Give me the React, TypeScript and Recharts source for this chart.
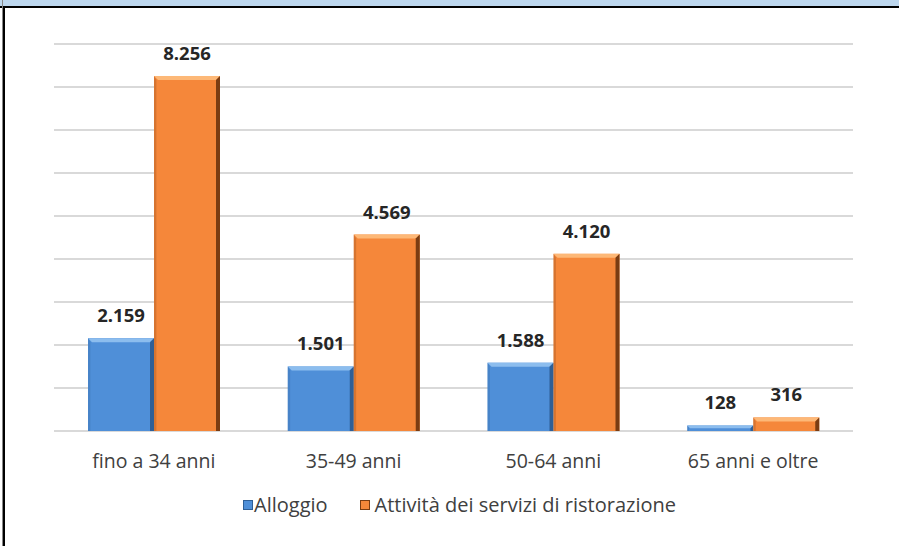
import React from 'react';
import { BarChart, Bar, XAxis, YAxis, CartesianGrid, Legend, LabelList } from 'recharts';

const categories = ['fino a 34 anni', '35-49 anni', '50-64 anni', '65 anni e oltre'];
const alloggio = [2159, 1501, 1588, 128];
const ristorazione = [8256, 4569, 4120, 316];
const yTicks = [0, 1000, 2000, 3000, 4000, 5000, 6000, 7000, 8000, 9000];

const SERIES = [
  { key: 'alloggio', name: 'Alloggio', fill: '#4F8FD8', light: '#8CBDEE', dark: '#2F5F96' },
  { key: 'ristorazione', name: 'Attività dei servizi di ristorazione', fill: '#F5873A', light: '#FDB877', dark: '#7A3C12' },
];

const data = categories.map((cat, i) => ({
  cat,
  alloggio: alloggio[i],
  ristorazione: ristorazione[i],
}));

const FONT = '"Open Sans", "Noto Sans", sans-serif';

const fmt = (v: number) => v.toLocaleString('it-IT').replace(/\s/g, '.');

function bevelShape(s: { fill: string; light: string; dark: string }) {
  return (props: any) => {
    const { x, y, width, height } = props;
    if (!height || height <= 0) return <g />;
    const b = Math.min(4, height / 2);
    return (
      <g>
        <rect x={x} y={y} width={width} height={height} fill={s.fill} />
        <polygon
          points={`${x},${y} ${x + width},${y} ${x + width - b},${y + b} ${x + b},${y + b}`}
          fill={s.light}
        />
        <polygon
          points={`${x + width},${y} ${x + width},${y + height} ${x + width - b},${y + height} ${x + width - b},${y + b}`}
          fill={s.dark}
        />
        <polygon
          points={`${x},${y} ${x + b * 0.6},${y + b} ${x + b * 0.6},${y + height} ${x},${y + height}`}
          fill={s.dark}
          fillOpacity={0.25}
        />
      </g>
    );
  };
}

function LegendContent() {
  return (
    <div
      style={{
        display: 'flex',
        justifyContent: 'center',
        alignItems: 'center',
        fontFamily: FONT,
        fontSize: 20,
        color: '#404040',
        paddingLeft: 20,
      }}
    >
      {SERIES.map((s, i) => (
        <span key={s.key} style={{ display: 'flex', alignItems: 'center', marginLeft: i ? 32 : 0 }}>
          <span
            style={{
              display: 'inline-block',
              width: 8,
              height: 8,
              background: s.fill,
              border: `1px solid ${s.dark}`,
              marginRight: i ? 5 : 1,
            }}
          />
          {s.name}
        </span>
      ))}
    </div>
  );
}

export default function App() {
  return (
    <div
      style={{
        position: 'absolute',
        left: 0,
        top: 0,
        width: 899,
        height: 546,
        background: '#ffffff',
        overflow: 'hidden',
      }}
    >
      <div style={{ position: 'absolute', left: 0, top: 0, width: 899, height: 6, background: '#BDD7EE' }} />
      <div style={{ position: 'absolute', left: 0, top: 6, width: 899, height: 2, background: '#000' }} />
      <div style={{ position: 'absolute', left: 2, top: 0, width: 1, height: 546, background: '#888' }} />
      <div style={{ position: 'absolute', left: 3, top: 6, width: 2, height: 540, background: '#000' }} />
      <div style={{ position: 'absolute', left: 0, top: 0 }}>
        <BarChart
          width={899}
          height={546}
          data={data}
          margin={{ top: 44, right: 46, left: 54, bottom: 85 }}
          barGap={0}
          barSize={66}
        >
          <CartesianGrid vertical={false} stroke="#D9D9D9" strokeWidth={2} />
          <YAxis hide domain={[0, 9000]} ticks={yTicks} />
          <XAxis
            dataKey="cat"
            axisLine={false}
            tickLine={false}
            height={30}
            tickMargin={17}
            tick={{ fontSize: 19.5, fill: '#404040', fontFamily: FONT }}
          />
          <Legend
            verticalAlign="middle"
            content={<LegendContent />}
            wrapperStyle={{ top: 491, left: 0, width: 899 }}
          />
          {SERIES.map((s) => (
            <Bar
              key={s.key}
              dataKey={s.key}
              name={s.name}
              fill={s.fill}
              shape={bevelShape(s)}
              isAnimationActive={false}
            >
              <LabelList
                dataKey={s.key}
                position="top"
                offset={16}
                formatter={(v: any) => fmt(Number(v))}
                style={{ fontSize: 18.5, fontWeight: 700, fill: '#262626', fontFamily: FONT }}
              />
            </Bar>
          ))}
        </BarChart>
      </div>
    </div>
  );
}
